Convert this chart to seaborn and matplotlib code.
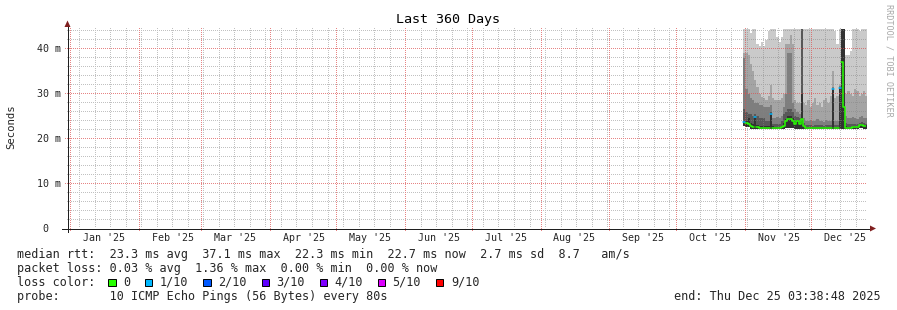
import numpy as np
import pandas as pd
import matplotlib
matplotlib.use("Agg")
import matplotlib.pyplot as plt
import matplotlib.dates as mdates
from matplotlib.patches import Polygon, Rectangle
from matplotlib.lines import Line2D
import seaborn as sns

# ---------------- data (one value per day, starting at first_day) ----------------
first_day = "2025-10-31"
median_ms = [23.6, 23.5, 23.2, 22.8, 22.6, 24.7, 22.5, 22.4, 22.4, 22.4,
             22.4, 22.4, 25.5, 22.4, 22.4, 22.4, 22.4, 22.5, 22.8, 23.8,
             24.3, 24.4, 24.0, 23.3, 24.0, 23.2, 24.4, 22.8, 22.4, 22.4,
             22.4, 22.4, 22.4, 22.4, 22.4, 22.4, 22.4, 22.4, 22.4, 22.4,
             31.0, 22.4, 22.4, 31.3, 37.1, 27.0, 22.4, 22.4, 22.4, 22.5,
             22.5, 22.6, 22.9, 23.0, 22.8, 22.7]
loss_tenths = [1, 0, 0, 0, 0, 1, 0, 0, 0, 0,
               0, 0, 1, 0, 0, 0, 0, 0, 0, 0,
               0, 0, 0, 0, 0, 0, 0, 0, 0, 0,
               0, 0, 0, 0, 0, 0, 0, 0, 0, 0,
               1, 0, 0, 1, 0, 0, 0, 0, 0, 0,
               0, 0, 0, 0, 0, 0]
smoke_low = [22.8, 22.6, 22.5, 22.2, 22.1, 22.1, 22.1, 22.1, 22.1, 22.1,
             22.1, 22.1, 22.1, 22.1, 22.1, 22.1, 22.1, 22.1, 22.2, 22.3,
             22.4, 22.4, 22.3, 22.2, 22.2, 22.1, 22.1, 22.1, 22.1, 22.1,
             22.1, 22.1, 22.1, 22.1, 22.1, 22.1, 22.1, 22.1, 22.1, 22.1,
             22.1, 22.1, 22.1, 22.1, 22.1, 22.1, 22.1, 22.1, 22.1, 22.1,
             22.1, 22.2, 22.3, 22.3, 22.2, 22.2]
smoke_p6 = [23.9, 24.0, 24.6, 23.5, 23.2, 24.8, 23.0, 22.8, 22.8, 22.8,
            22.8, 22.8, 25.6, 22.7, 22.6, 22.6, 22.6, 22.8, 23.4, 24.4,
            24.9, 25.0, 24.6, 23.8, 24.2, 23.6, 30.0, 23.0, 22.5, 22.5,
            22.5, 22.5, 22.5, 22.5, 22.5, 22.5, 22.5, 22.5, 22.5, 22.5,
            31.0, 22.5, 22.5, 31.3, 48.0, 48.0, 22.7, 22.6, 22.6, 22.7,
            22.7, 22.8, 23.1, 23.2, 23.0, 22.9]
smoke_p7 = [26.5, 26.0, 25.5, 25.5, 25.0, 25.5, 25.0, 24.5, 24.5, 24.5,
            24.0, 24.0, 26.0, 23.3, 23.2, 23.3, 23.2, 23.8, 25.5, 26.0,
            26.5, 26.5, 26.0, 25.0, 24.8, 24.5, 48.0, 23.5, 22.9, 23.0,
            22.9, 22.8, 22.9, 23.0, 22.9, 22.9, 22.8, 22.9, 23.0, 22.9,
            31.2, 22.9, 22.9, 31.4, 48.0, 48.0, 23.4, 23.2, 23.2, 23.3,
            23.2, 23.2, 23.5, 23.6, 23.4, 23.3]
smoke_p8 = [38.0, 31.0, 30.0, 29.0, 28.5, 28.0, 28.0, 27.5, 27.5, 27.0,
            27.0, 27.0, 27.5, 24.5, 24.5, 24.8, 24.5, 25.0, 27.0, 30.0,
            39.0, 39.0, 28.0, 26.5, 26.0, 25.5, 48.0, 24.5, 24.0, 23.8,
            24.2, 23.9, 24.0, 24.4, 23.8, 24.0, 23.7, 24.2, 24.0, 23.9,
            31.5, 24.0, 24.0, 31.6, 48.0, 48.0, 25.0, 24.5, 24.5, 24.8,
            24.5, 24.4, 24.8, 25.0, 24.6, 24.5]
smoke_p9 = [39.0, 39.0, 38.5, 36.6, 35.0, 33.0, 31.4, 30.0, 29.2, 29.0,
            28.5, 29.5, 31.8, 29.0, 28.5, 28.5, 28.5, 29.0, 30.0, 41.0,
            41.0, 43.0, 41.0, 28.5, 28.0, 28.0, 48.0, 28.0, 27.5, 28.5,
            27.0, 28.0, 29.0, 27.5, 28.0, 27.0, 28.5, 29.0, 28.0, 29.5,
            35.0, 29.0, 29.5, 31.8, 48.0, 48.0, 30.0, 30.5, 30.0, 29.5,
            31.0, 30.5, 29.5, 30.0, 30.5, 29.5]
smoke_p10 = [48.0, 48.0, 48.0, 43.5, 48.0, 48.0, 41.0, 40.5, 41.5, 40.5,
             42.0, 44.0, 48.0, 48.0, 45.0, 42.5, 41.5, 42.5, 48.0, 48.0,
             48.0, 48.0, 48.0, 48.0, 48.0, 48.0, 48.0, 48.0, 48.0, 48.0,
             48.0, 48.0, 48.0, 48.0, 48.0, 48.0, 48.0, 48.0, 48.0, 48.0,
             48.0, 44.0, 41.0, 48.0, 48.0, 48.0, 38.5, 38.5, 39.5, 48.0,
             48.0, 48.0, 44.0, 48.0, 48.0, 48.0]

graph_start = "2024-12-30 03:38:48"
graph_end = "2025-12-25 03:38:48"
month_labels = ["Jan '25", "Feb '25", "Mar '25", "Apr '25", "May '25", "Jun '25",
                "Jul '25", "Aug '25", "Sep '25", "Oct '25", "Nov '25", "Dec '25"]
y_tick_values = [0, 10, 20, 30, 40]
y_tick_labels = ["0  ", "10 m", "20 m", "30 m", "40 m"]
loss_names = ["0", "1/10", "2/10", "3/10", "4/10", "5/10", "9/10"]
loss_colors = ["#26ff00", "#00b8ff", "#0059ff", "#5e00ff", "#7e00ff", "#dd00ff", "#ff0000"]
smoke_colors = ["#cacaca", "#a4a4a4", "#7e7e7e", "#585858", "#323232"]

title = "Last 360 Days"
y_label = "Seconds"
line_rtt = "median rtt:  23.3 ms avg  37.1 ms max  22.3 ms min  22.7 ms now  2.7 ms sd  8.7   am/s"
line_loss = "packet loss: 0.03 % avg  1.36 % max  0.00 % min  0.00 % now"
line_color = "loss color:"
line_probe = "probe:       10 ICMP Echo Pings (56 Bytes) every 80s"
line_end = "end: Thu Dec 25 03:38:48 2025"
watermark = "RRDTOOL / TOBI OETIKER"

# ---------------- layout ----------------
sns.set_theme(style="white")
plt.rcParams["font.family"] = ["DejaVu Sans Mono", "DejaVu Sans"]

W, H = 897, 310
fig = plt.figure(figsize=(W / 100, H / 100), dpi=100)
fig.patch.set_facecolor("white")

X0, X1 = 66.5, 865.5      # pixel x of graph start / end
Y0, Y1 = 228.5, 28.5      # pixel y (from top) of value 0 / top
PX_PER_MS = 4.5
YMAX = (Y0 - Y1) / PX_PER_MS
PT = 0.72                 # one pixel in points


def fx(px):
    return px / W


def fy(py):
    return 1 - py / H


rect = [fx(X0), fy(Y0), (X1 - X0) / W, (Y0 - Y1) / H]
ax = fig.add_axes(rect, zorder=0)
ax_top = fig.add_axes(rect, zorder=2)
t0 = mdates.date2num(pd.Timestamp(graph_start))
t1 = mdates.date2num(pd.Timestamp(graph_end))
days_per_px = (t1 - t0) / (X1 - X0)


def t2px(t):
    return X0 + (t - t0) / days_per_px


# ---------------- smoke ----------------
n = len(median_ms)
edges = mdates.date2num(pd.date_range(first_day, periods=n + 1, freq="D"))
bands = [smoke_p10, smoke_p9, smoke_p8, smoke_p7, smoke_p6]
for top, col in zip(bands, smoke_colors):
    ax.fill_between(edges, np.append(smoke_low, smoke_low[-1]), np.append(top, top[-1]),
                    step="post", color=col, lw=0, zorder=1, antialiased=False)

# ---------------- median line coloured by loss (on top axes) ----------------
rows = []
seg = 0
for i in range(n):
    if i == 0 or loss_tenths[i] != loss_tenths[i - 1]:
        seg += 1
    rows.append((edges[i], median_ms[i], loss_tenths[i], seg))
    rows.append((edges[i + 1], median_ms[i], loss_tenths[i], seg))
med_df = pd.DataFrame(rows, columns=["t", "ms", "loss", "seg"])
level_color = {0: loss_colors[0], 1: loss_colors[1], 2: loss_colors[2], 3: loss_colors[3],
               4: loss_colors[4], 5: loss_colors[5], 9: loss_colors[6]}
for lv, sub in med_df.groupby("loss"):
    sns.lineplot(data=sub, x="t", y="ms", units="seg", estimator=None, sort=False,
                 color=level_color[lv], lw=1.1, ax=ax_top, legend=False)

for a in (ax, ax_top):
    a.set_xlim(t0, t1)
    a.set_ylim(0, YMAX)
    a.set_axis_off()
    a.patch.set_alpha(0)

# ---------------- grid: pixel exact dotted lines as a figure image ----------------
grid = np.zeros((H, W, 4))
minor_rgba = (0.52, 0.52, 0.52, 0.5)
major_rgba = (0.87, 0.31, 0.31, 0.7)
TOP_ROW, BOT_ROW = 28, 228
LEFT_COL, RIGHT_COL = 67, 866


def hdots(row, c0, c1, rgba):
    for c in range(c0, c1):
        if (c - LEFT_COL) % 2 == 0:
            grid[row, c] = rgba


def vdots(col, r0, r1, rgba):
    for r in range(r0, r1):
        if (r - TOP_ROW) % 2 == 0:
            grid[r, col] = rgba


for d in pd.date_range("2025-01-05", graph_end, freq="7D"):
    vdots(int(np.floor(t2px(mdates.date2num(d)))), TOP_ROW, BOT_ROW, minor_rgba)
for v in range(2, int(YMAX) + 1, 2):
    if v % 10:
        hdots(int(round(Y0 - 0.5 - v * PX_PER_MS)), LEFT_COL, RIGHT_COL, minor_rgba)
for v in y_tick_values[1:]:
    hdots(int(round(Y0 - 0.5 - v * PX_PER_MS)), 64, RIGHT_COL, major_rgba)
month_starts = pd.date_range("2025-01-01", periods=12, freq="MS")
for d in month_starts:
    vdots(int(np.floor(t2px(mdates.date2num(d)))), TOP_ROW, BOT_ROW + 4, major_rgba)
fig.figimage(grid, xo=0, yo=0, origin="upper", zorder=1)


# ---------------- helpers in figure pixel coords ----------------
def fline(xs, ys, **kw):
    fig.add_artist(Line2D([fx(x) for x in xs], [fy(y) for y in ys],
                          transform=fig.transFigure, **kw))


def fpoly(pts, color):
    fig.add_artist(Polygon([(fx(x), fy(y)) for x, y in pts], closed=True,
                           transform=fig.transFigure, color=color, lw=0, zorder=5))


# ---------------- axes + arrows ----------------
axis_col = "#1f1f1f"
arrow_col = "#801f1f"
fline([62, 870], [Y0, Y0], color=axis_col, lw=PT, antialiased=False, zorder=5)
fline([67.5, 67.5], [232, 26], color=axis_col, lw=PT, antialiased=False, zorder=5)
fpoly([(870, 225.5), (870, 231.5), (876, Y0)], arrow_col)
fpoly([(64.5, 27), (70.5, 27), (67.5, 20.5)], arrow_col)

# ---------------- texts ----------------
fig.text(fx(448), fy(23.5), title, ha="center", va="baseline", fontsize=9.6, color="black")
fig.text(fx(11), fy(127), y_label, rotation=90, ha="center", va="center", fontsize=7.7)
fig.text(fx(888.5), fy(60), watermark, rotation=270, ha="center", va="center",
         fontsize=6.1, color="#a8a8a8")

for v, lab in zip(y_tick_values, y_tick_labels):
    fig.text(fx(60.5), fy(Y0 - v * PX_PER_MS + 3.8), lab, ha="right", va="baseline", fontsize=7.2)

for d, lab in zip(month_starts, month_labels):
    mid = mdates.date2num(d + pd.Timedelta(days=15))
    fig.text(fx(t2px(mid)), fy(240.8), lab, ha="center", va="baseline", fontsize=7.2)

LX = 16.7
CHAR = 7.1
fs_leg = 8.5
fig.text(fx(LX), fy(257.6), line_rtt, ha="left", va="baseline", fontsize=fs_leg)
fig.text(fx(LX), fy(271.8), line_loss, ha="left", va="baseline", fontsize=fs_leg)
fig.text(fx(LX), fy(285.9), line_color, ha="left", va="baseline", fontsize=fs_leg)
fig.text(fx(LX), fy(300.1), line_probe, ha="left", va="baseline", fontsize=fs_leg)
fig.text(fx(880.5), fy(300.1), line_end, ha="right", va="baseline", fontsize=fs_leg)

bx = 108.3
for name, col in zip(loss_names, loss_colors):
    fig.add_artist(Rectangle((fx(bx), fy(286.2)), 7.2 / W, 7.6 / H, transform=fig.transFigure,
                             facecolor=col, edgecolor="black", lw=0.7))
    tx = bx + 14.6
    fig.text(fx(tx), fy(285.9), name, ha="left", va="baseline", fontsize=fs_leg)
    bx = tx + len(name) * CHAR + 15.2

fig.savefig("out.png", dpi=100, facecolor="white")
